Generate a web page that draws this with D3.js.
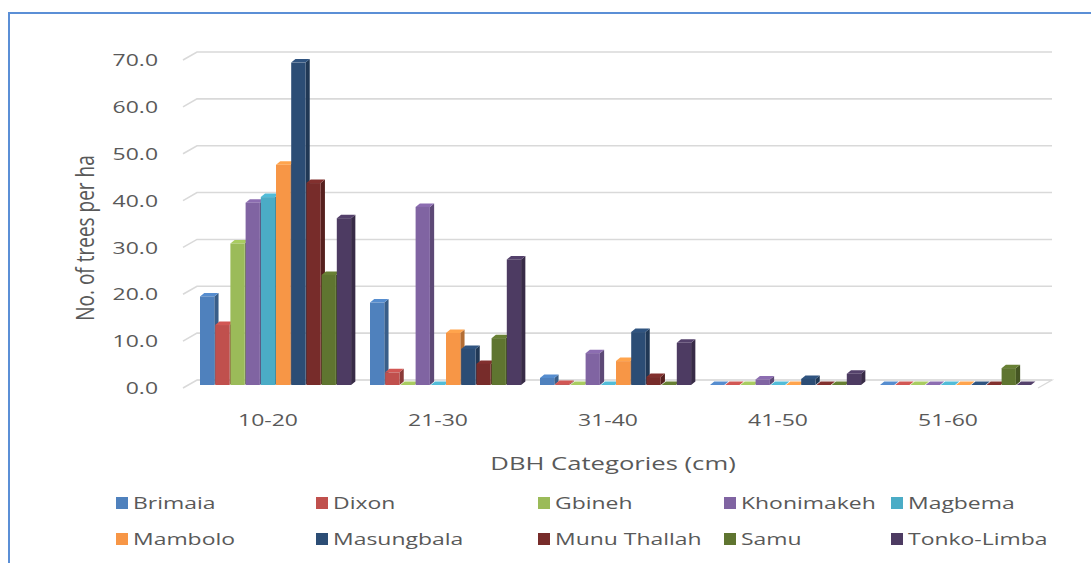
<!DOCTYPE html>
<html>
<head>
<meta charset="utf-8">
<script src="https://cdn.jsdelivr.net/npm/d3@7/dist/d3.min.js"></script>
<style>
  html, body { margin: 0; padding: 0; background: #fff; }
  svg { display: block; }
  text { font-family: "Open Sans", "Noto Sans", sans-serif; fill: #595959; }
</style>
</head>
<body>
<svg id="chart" width="1091" height="563"></svg>
<script>
// DBH classes on the x axis
const categories = ["10-20", "21-30", "31-40", "41-50", "51-60"];

// Chiefdoms (one series each)
const seriesNames = ["Brimaia", "Dixon", "Gbineh", "Khonimakeh", "Magbema",
                     "Mambolo", "Masungbala", "Munu Thallah", "Samu", "Tonko-Limba"];

// Trees per ha for each chiefdom, by DBH class
const brimaia     = [18.9, 17.6, 1.5, 0.0, 0.0];
const dixon       = [12.8, 2.7, 0.2, 0.0, 0.0];
const gbineh      = [30.2, 0.0, 0.0, 0.0, 0.0];
const khonimakeh  = [38.9, 38.0, 6.8, 1.2, 0.0];
const magbema     = [40.1, 0.0, 0.0, 0.0, 0.0];
const mambolo     = [47.0, 11.1, 5.1, 0.0, 0.0];
const masungbala  = [68.8, 7.7, 11.3, 1.3, 0.0];
const munuThallah = [43.1, 4.5, 1.7, 0.0, 0.0];
const samu        = [23.5, 10.0, 0.0, 0.0, 3.6];
const tonkoLimba  = [35.6, 26.8, 9.0, 2.4, 0.0];

const yTicks = [0, 10, 20, 30, 40, 50, 60, 70];

const seriesValues = [brimaia, dixon, gbineh, khonimakeh, magbema,
                      mambolo, masungbala, munuThallah, samu, tonkoLimba];
const colors = ["#4F81BD", "#C0504D", "#9BBB59", "#8064A2", "#4BACC6",
                "#F79646", "#2C4D75", "#772C2A", "#5F7530", "#4D3B62"];

const svg = d3.select("#chart");
const SX = 1.35; // horizontal text stretch

// outer frame
svg.append("rect").attr("x", 9).attr("y", 13).attr("width", 1090).attr("height", 560)
  .attr("fill", "none").attr("stroke", "#5B8FD6").attr("stroke-width", 2);

// 3D geometry: front plane, back wall offset
const depthX = 14, depthY = -8;
const frontBase = 388, backBase = frontBase + depthY;
const yFront = d3.scaleLinear().domain([0, 70]).range([frontBase, frontBase - 328]);
const yBack = v => yFront(v) + depthY;
const barBase = 385;
const yBar = d3.scaleLinear().domain([0, 70]).range([barBase, barBase - 328]);

const x0 = d3.scaleBand().domain(categories).range([191, 1041]);
const x1 = d3.scaleBand().domain(seriesNames).range([9, 161]);

// gridlines on the back wall with a short diagonal on the side wall
const gridG = svg.append("g");
yTicks.forEach(t => {
  gridG.append("path")
    .attr("d", `M183,${yFront(t)} L${183 + depthX},${yBack(t)} L1052,${yBack(t)}`)
    .attr("fill", "none").attr("stroke", "#D9D9D9").attr("stroke-width", 1.6);
});
// floor edges
gridG.append("path")
  .attr("d", `M${183 + depthX},${backBase} L1052,${backBase} L${1052 - depthX},${frontBase}`)
  .attr("fill", "none").attr("stroke", "#D9D9D9").attr("stroke-width", 1.2);

// y tick labels
const yAxisG = svg.append("g");
yTicks.forEach(t => {
  yAxisG.append("text")
    .attr("transform", `translate(158,${yFront(t)}) scale(${SX},1)`)
    .attr("text-anchor", "end").attr("dy", "0.36em")
    .attr("font-size", 17)
    .text(d3.format(".1f")(t));
});

// bars (side, top and front faces), drawn left to right so neighbours overlap the sides
const barsG = svg.append("g");
const bw = x1.bandwidth();
const faceW = bw * 0.94, sideW = bw * 0.28, topH = 3.5;
categories.forEach((c, ci) => {
  seriesNames.forEach((s, si) => {
    const v = seriesValues[si][ci];
    const xl = x0(c) + x1(s);
    const yt = yBar(v), yb = yBar(0);
    const col = d3.color(colors[si]);
    const g = barsG.append("g");
    g.append("path")
      .attr("d", `M${xl + faceW},${yt} L${xl + faceW + sideW},${yt - topH} L${xl + faceW + sideW},${yb - topH} L${xl + faceW},${yb} Z`)
      .attr("fill", col.darker(0.9));
    g.append("path")
      .attr("d", `M${xl},${yt} L${xl + sideW},${yt - topH} L${xl + faceW + sideW},${yt - topH} L${xl + faceW},${yt} Z`)
      .attr("fill", col.brighter(0.25));
    if (v > 0) {
      g.append("rect").attr("x", xl).attr("y", yt).attr("width", faceW).attr("height", yb - yt)
        .attr("fill", col);
    }
  });
});

// category labels
categories.forEach(c => {
  svg.append("text")
    .attr("transform", `translate(${x0(c) + x0.bandwidth() / 2 - 8},${frontBase + 38}) scale(${SX},1)`)
    .attr("text-anchor", "middle").attr("font-size", 17)
    .text(c);
});

// axis titles
svg.append("text")
  .attr("transform", `translate(613,470) scale(${SX},1)`)
  .attr("text-anchor", "middle").attr("font-size", 19)
  .text("DBH Categories (cm)");
svg.append("text")
  .attr("transform", `translate(94,238) scale(${SX},1) rotate(-90)`)
  .attr("text-anchor", "middle").attr("font-size", 19)
  .text("No. of trees per ha");

// legend: two rows of five
const legendCols = [116, 316, 538, 724, 891];
const legendRows = [503, 539];
seriesNames.forEach((s, i) => {
  const lx = legendCols[i % 5], ly = legendRows[Math.floor(i / 5)];
  svg.append("rect").attr("x", lx).attr("y", ly - 6).attr("width", 12).attr("height", 12)
    .attr("fill", colors[i]);
  svg.append("text")
    .attr("transform", `translate(${lx + 17},${ly}) scale(${SX},1)`)
    .attr("dy", "0.35em").attr("font-size", 17)
    .text(s);
});
</script>
</body>
</html>
